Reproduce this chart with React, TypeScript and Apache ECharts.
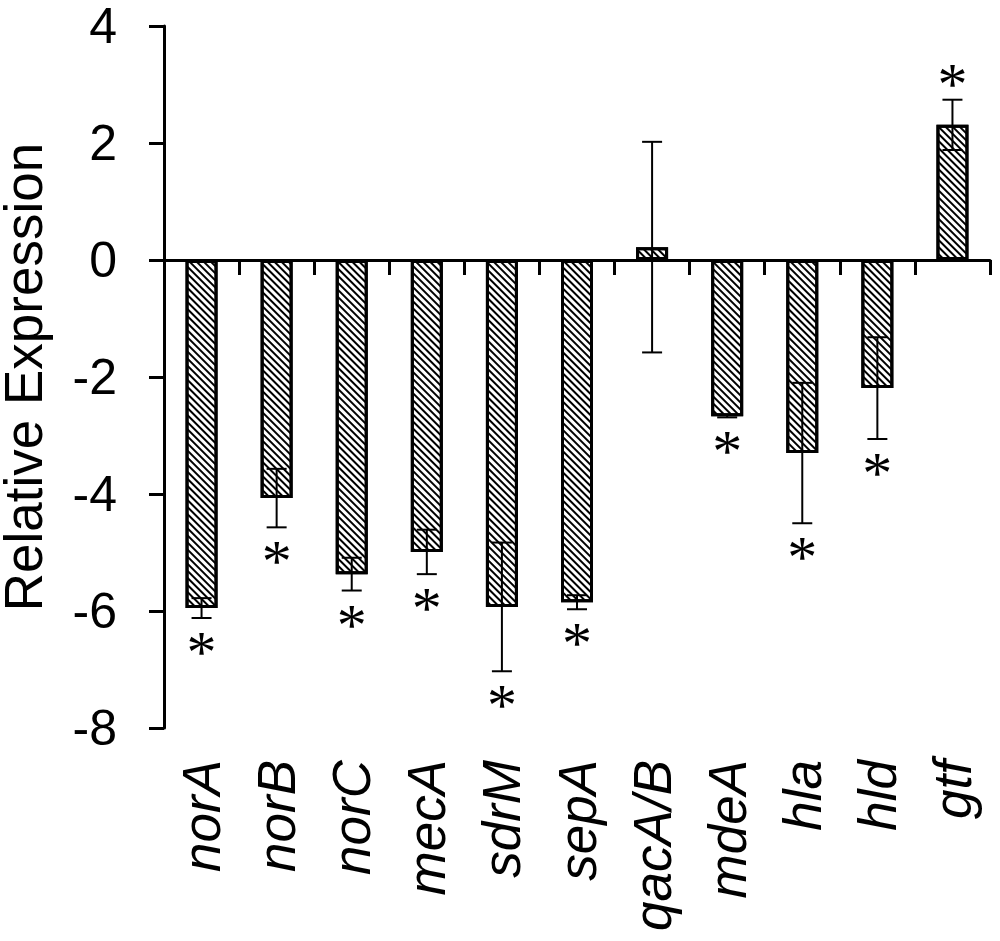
import React, { useEffect, useRef } from "react";
import * as echarts from "echarts";

const categories = ["norA", "norB", "norC", "mecA", "sdrM", "sepA", "qacA/B", "mdeA", "hla", "hld", "gtf"];
const values = [-5.95, -4.07, -5.37, -4.99, -5.93, -5.85, 0.22, -2.67, -3.3, -2.19, 2.31];
const errors = [0.17, 0.5, 0.28, 0.38, 1.1, 0.12, 1.8, 0.02, 1.2, 0.87, 0.43];
const significant = [1, 1, 1, 1, 1, 1, 0, 1, 1, 1, 1];
const yTicks = [-8, -6, -4, -2, 0, 2, 4];

const FONT = "'Liberation Sans', Arial, sans-serif";

export default function App() {
  const ref = useRef<HTMLDivElement>(null);

  useEffect(() => {
    document.body.style.margin = "0";
    const chart = echarts.init(ref.current!, null, { renderer: "svg" });

    const errData = values.map((v, i) => [i, v - errors[i], v + errors[i], v, significant[i]]);

    const option = {
      animation: false,
      backgroundColor: "#fff",
      grid: { left: 164, right: 10, top: 26, bottom: 213, containLabel: false, outerBoundsMode: "none" },
      xAxis: [
        {
          type: "category",
          data: categories,
          position: "bottom",
          axisLine: { show: false, onZero: false },
          axisTick: { show: false },
          axisLabel: {
            rotate: 90,
            margin: 32,
            fontSize: 53,
            fontStyle: "italic",
            fontFamily: FONT,
            color: "#000",
            interval: 0,
          },
        },
        {
          type: "category",
          data: categories,
          position: "bottom",
          axisLine: { show: true, onZero: true, lineStyle: { color: "#000", width: 3 } },
          axisTick: { show: true, length: 15, lineStyle: { color: "#000", width: 3 } },
          axisLabel: { show: false },
        },
      ],
      yAxis: {
        type: "value",
        min: yTicks[0],
        max: yTicks[yTicks.length - 1],
        interval: 2,
        name: "Relative Expression",
        nameLocation: "middle",
        nameGap: 114,
        nameTextStyle: { fontSize: 53, fontFamily: FONT, color: "#000" },
        axisLine: { show: true, lineStyle: { color: "#000", width: 3 } },
        axisTick: { show: true, length: 15, lineStyle: { color: "#000", width: 3 } },
        axisLabel: { fontSize: 50, fontFamily: FONT, color: "#000", margin: 47 },
        splitLine: { show: false },
      },
      series: [
        {
          type: "bar",
          data: values,
          xAxisIndex: 0,
          barWidth: 32,
          itemStyle: {
            color: "#fff",
            borderColor: "#000",
            borderWidth: 3,
            decal: {
              symbol: "rect",
              color: "#000",
              dashArrayX: [1, 0],
              dashArrayY: [2, 2.6],
              rotation: Math.PI / 4,
            },
          },
        },
        {
          type: "custom",
          xAxisIndex: 0,
          data: errData,
          z: 5,
          renderItem: (params: any, api: any) => {
            const i = api.value(0);
            const lo = api.coord([i, api.value(1)]);
            const hi = api.coord([i, api.value(2)]);
            const v = api.value(3);
            const sig = api.value(4);
            const x = lo[0];
            const cap = 10;
            const style = { stroke: "#000", lineWidth: 2 };
            const children: any[] = [
              { type: "line", shape: { x1: x, y1: lo[1], x2: x, y2: hi[1] }, style },
              { type: "line", shape: { x1: x - cap, y1: lo[1], x2: x + cap, y2: lo[1] }, style },
              { type: "line", shape: { x1: x - cap, y1: hi[1], x2: x + cap, y2: hi[1] }, style },
            ];
            if (sig) {
              const sy = v < 0 ? lo[1] + 34 : hi[1] - 16;
              children.push({
                type: "text",
                x: x,
                y: sy,
                style: {
                  text: "*",
                  fontSize: 60,
                  fontFamily: "'Liberation Serif', 'Times New Roman', serif",
                  fill: "#000",
                  align: "center",
                  verticalAlign: "middle",
                },
              });
            }
            return { type: "group", children };
          },
        },
      ],
    };

    chart.setOption(option);
    return () => chart.dispose();
  }, []);

  return <div ref={ref} style={{ width: 1000, height: 941 }} />;
}
